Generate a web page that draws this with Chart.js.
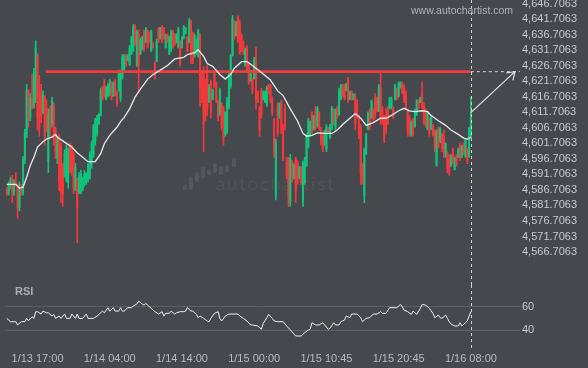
<!DOCTYPE html>
<html><head><meta charset="utf-8">
<script src="https://cdn.jsdelivr.net/npm/chart.js@4.4.1/dist/chart.umd.min.js"></script>
<style>
html,body{margin:0;padding:0;background:#45484d;}
#wrap{position:relative;width:588px;height:368px;overflow:hidden;background:#45484d;font-family:"Liberation Sans",Arial,sans-serif;}
canvas{position:absolute;left:0;}
#main{top:0;}
#rsi{top:285px;}
.txt{position:absolute;white-space:nowrap;}
.lb{position:absolute;width:4px;background:#54575c;border-radius:1.5px;}
</style></head><body>
<div id="wrap">
  <div class="lb" style="left:183px;top:185px;height:5px"></div>
  <div class="lb" style="left:189px;top:177px;height:13px"></div>
  <div class="lb" style="left:195px;top:172px;height:10px"></div>
  <div class="lb" style="left:201px;top:167px;height:11px"></div>
  <div class="lb" style="left:207px;top:170px;height:5px"></div>
  <div class="lb" style="left:213px;top:163px;height:10px"></div>
  <div class="lb" style="left:219px;top:166px;height:9px"></div>
  <div class="lb" style="left:225px;top:165px;height:7px"></div>
  <div class="lb" style="left:232px;top:158px;height:9px"></div>
  <div class="txt" style="left:216px;top:172px;font-family:Lato,sans-serif;font-weight:300;font-size:18px;letter-spacing:2.3px;color:#56595e;">autochartist</div>
  <canvas id="main" width="588" height="285"></canvas>
  <canvas id="rsi" width="588" height="83"></canvas>
  <div class="txt" style="left:411px;top:4px;font-size:10.5px;line-height:13px;color:#b0b4b9;">www.autochartist.com</div>
  <div class="txt" style="left:15px;top:285px;font-size:11px;line-height:12px;font-weight:bold;color:#a9adb2;">RSI</div>
</div>
<script>
// ---------- DATA (15-minute candles, index 0..257) ----------
const opens = [
4587.0,4585.5,4588.6,4590.0,4586.0,4589.0,4588.3,4581.0,4587.5,4585.8,
4596.5,4605.0,4618.5,4610.0,4616.5,4613.5,4617.0,4630.0,4618.0,4617.0,
4611.5,4616.5,4613.0,4596.0,4612.5,4608.0,4614.0,4606.0,4597.0,4603.5,
4600.5,4594.0,4591.0,4590.0,4589.0,4601.0,4600.0,4598.0,4587.0,4590.0,
4586.0,4586.0,4587.0,4588.5,4589.0,4590.0,4591.0,4595.0,4598.0,4602.5,
4605.0,4608.0,4610.7,4619.0,4620.5,4616.0,4617.0,4618.0,4621.0,4617.0,
4621.5,4618.0,4618.8,4616.0,4623.0,4625.5,4630.0,4628.4,4627.0,4630.5,
4631.5,4639.5,4627.0,4637.0,4630.5,4632.0,4637.5,4634.5,4638.0,4637.0,
4631.5,4634.0,4627.5,4628.3,4638.5,4635.5,4639.0,4638.5,4632.5,4636.5,
4630.5,4632.0,4637.8,4636.5,4634.3,4632.8,4634.5,4632.6,4635.5,4637.2,
4636.0,4634.3,4641.0,4637.0,4630.0,4631.0,4630.0,4636.5,4623.5,4625.0,
4621.0,4625.5,4615.0,4621.5,4616.0,4624.5,4621.0,4615.0,4611.0,4614.5,
4613.0,4604.5,4605.5,4613.0,4620.0,4630.0,4641.0,4636.5,4642.5,4640.5,
4636.5,4634.0,4627.0,4632.5,4627.5,4622.0,4622.4,4622.5,4628.0,4618.5,
4613.0,4618.5,4616.0,4615.0,4614.0,4620.5,4620.0,4616.0,4609.5,4585.0,
4613.5,4610.0,4615.0,4607.0,4613.0,4596.5,4595.0,4583.0,4596.0,4590.5,
4596.5,4595.5,4590.5,4594.0,4583.0,4589.0,4594.5,4601.0,4604.5,4611.5,
4606.5,4612.5,4607.5,4611.5,4606.0,4604.0,4601.5,4600.0,4606.5,4603.5,
4606.5,4612.0,4607.0,4613.0,4611.0,4616.0,4620.0,4619.5,4618.7,4622.5,
4616.0,4618.3,4616.0,4616.5,4614.5,4610.0,4606.5,4594.5,4585.0,4598.5,
4606.5,4611.5,4610.0,4612.5,4616.5,4616.0,4612.3,4619.5,4612.5,4609.5,
4611.0,4612.5,4613.0,4613.3,4613.0,4615.8,4619.0,4617.0,4619.8,4621.0,
4620.0,4617.5,4612.0,4609.5,4604.5,4609.3,4607.2,4611.0,4615.5,4614.9,
4618.0,4614.2,4612.0,4606.5,4609.0,4606.5,4607.5,4605.5,4595.0,4606.0,
4602.5,4604.5,4604.0,4597.5,4598.5,4596.5,4594.5,4599.5,4593.3,4597.6,
4597.3,4601.0,4597.4,4601.5,4597.5,4599.8,4597.5,4604.0];
const highs = [
4587.3,4589.3,4590.8,4591.4,4590.0,4592.3,4588.5,4589.3,4588.5,4597.5,
4606.3,4620.7,4619.0,4617.7,4623.9,4625.9,4634.7,4630.6,4623.6,4620.7,
4618.6,4617.1,4615.7,4612.8,4613.6,4616.6,4614.8,4606.9,4604.0,4604.6,
4601.9,4595.2,4599.6,4601.1,4600.2,4601.9,4601.1,4599.0,4595.2,4590.5,
4592.3,4593.1,4590.8,4592.9,4592.3,4595.2,4599.0,4602.5,4607.8,4609.8,
4610.7,4611.3,4619.5,4620.1,4622.4,4620.1,4621.0,4622.4,4621.5,4621.5,
4622.4,4618.6,4625.3,4625.3,4630.3,4630.3,4630.3,4630.3,4633.2,4636.2,
4640.0,4640.0,4638.2,4638.2,4635.6,4636.2,4638.2,4639.1,4638.2,4637.6,
4638.2,4634.1,4628.0,4635.3,4639.1,4639.1,4639.7,4639.1,4636.8,4637.0,
4636.2,4638.2,4638.2,4637.0,4637.0,4639.1,4634.7,4636.2,4639.7,4639.1,
4636.2,4642.0,4641.4,4637.6,4637.0,4635.3,4638.5,4637.0,4624.5,4626.5,
4622.4,4626.8,4620.7,4622.1,4619.2,4625.0,4621.5,4615.7,4619.5,4614.8,
4613.6,4611.9,4616.6,4624.5,4630.3,4642.9,4641.1,4641.1,4642.9,4641.4,
4637.0,4634.7,4632.4,4633.2,4628.0,4625.3,4622.7,4629.4,4632.7,4618.6,
4613.6,4619.5,4618.6,4618.6,4620.1,4620.7,4620.7,4616.6,4609.8,4603.1,
4614.8,4614.8,4615.7,4607.8,4614.2,4597.2,4597.2,4598.1,4596.1,4595.2,
4597.2,4596.1,4594.3,4594.3,4596.1,4597.2,4604.9,4609.8,4608.9,4611.9,
4610.7,4613.6,4613.6,4611.9,4606.9,4604.9,4606.0,4607.8,4606.9,4607.8,
4613.6,4612.8,4612.8,4613.6,4619.5,4620.7,4620.7,4620.7,4621.0,4623.0,
4618.6,4618.6,4617.7,4617.7,4615.7,4610.7,4607.8,4595.2,4600.2,4604.9,
4611.9,4612.8,4615.7,4612.8,4617.7,4616.6,4620.7,4625.0,4613.6,4610.7,
4612.8,4613.6,4616.6,4616.6,4613.6,4620.7,4619.5,4621.5,4621.5,4621.5,
4620.7,4618.6,4612.8,4610.7,4608.9,4609.8,4612.8,4615.7,4615.7,4616.6,
4621.5,4614.8,4612.8,4611.9,4609.8,4610.7,4607.8,4606.0,4606.0,4606.9,
4606.9,4604.9,4606.0,4601.9,4599.0,4598.1,4598.1,4600.2,4597.2,4598.1,
4600.2,4601.9,4601.1,4601.9,4603.1,4600.2,4606.9,4616.6];
const lows = [
4584.9,4585.0,4587.0,4582.6,4584.9,4587.9,4577.6,4580.0,4584.9,4585.0,
4595.2,4603.5,4606.9,4609.0,4612.8,4613.0,4614.8,4606.0,4604.0,4608.4,
4611.3,4601.1,4605.4,4592.3,4604.0,4606.9,4601.1,4596.7,4595.2,4586.4,
4582.6,4581.4,4590.8,4589.3,4587.3,4592.3,4591.4,4585.5,4586.4,4569.7,
4585.5,4585.5,4586.4,4587.9,4588.5,4589.3,4590.2,4593.7,4597.2,4601.1,
4604.0,4607.8,4610.5,4615.7,4616.6,4615.7,4616.6,4617.1,4615.7,4616.8,
4617.1,4613.6,4618.5,4615.1,4622.4,4625.3,4626.5,4628.3,4626.8,4630.3,
4631.2,4633.2,4626.5,4618.6,4630.3,4631.8,4631.2,4634.1,4632.4,4634.1,
4631.2,4632.4,4622.4,4628.0,4634.1,4635.3,4634.1,4635.3,4632.4,4634.1,
4630.3,4631.2,4632.4,4633.2,4634.1,4632.4,4626.5,4632.4,4635.3,4637.0,
4631.2,4634.1,4627.4,4627.4,4629.4,4630.3,4629.4,4613.6,4614.8,4599.0,
4608.9,4610.7,4614.8,4609.8,4615.7,4619.5,4614.8,4608.9,4610.7,4606.0,
4601.1,4604.0,4604.9,4612.8,4619.5,4629.8,4635.3,4636.2,4634.1,4630.3,
4631.2,4630.3,4626.5,4624.5,4620.7,4621.5,4617.7,4622.4,4612.8,4614.8,
4604.0,4609.8,4615.7,4614.8,4613.6,4617.7,4614.8,4610.7,4597.2,4583.5,
4604.0,4609.8,4604.9,4596.1,4606.0,4590.2,4581.4,4581.4,4589.3,4590.2,
4582.6,4588.5,4590.2,4588.5,4581.4,4588.5,4594.3,4600.2,4604.0,4604.9,
4606.0,4606.0,4606.9,4606.0,4601.1,4599.0,4601.1,4599.0,4604.9,4603.1,
4606.0,4607.8,4606.0,4609.8,4610.7,4615.7,4616.6,4615.7,4618.6,4614.8,
4615.7,4615.7,4615.7,4606.0,4609.8,4603.1,4588.5,4588.5,4582.6,4598.1,
4606.0,4606.0,4609.8,4608.9,4609.8,4611.9,4611.9,4607.8,4607.8,4601.9,
4604.9,4607.8,4612.8,4612.8,4609.8,4615.7,4615.7,4616.6,4619.5,4617.7,
4614.8,4612.8,4604.0,4604.0,4604.0,4604.0,4606.9,4610.7,4612.8,4614.8,
4612.8,4607.8,4606.9,4606.0,4604.0,4606.0,4604.0,4599.0,4594.3,4600.2,
4601.9,4599.0,4597.2,4597.2,4592.3,4591.4,4594.3,4595.2,4593.1,4594.3,
4597.2,4596.1,4597.2,4598.1,4597.2,4595.2,4597.2,4603.5];
const closes = [
4585.5,4588.6,4590.0,4586.0,4589.0,4588.3,4581.0,4587.5,4585.8,4596.5,
4605.0,4618.5,4610.0,4616.5,4613.5,4624.5,4632.5,4610.0,4607.0,4610.0,
4617.5,4604.0,4607.5,4611.0,4606.5,4615.5,4603.5,4598.5,4603.0,4589.0,
4586.0,4585.5,4598.5,4600.0,4599.0,4593.0,4592.5,4587.0,4594.0,4581.0,
4591.0,4592.0,4590.0,4592.0,4591.8,4594.5,4598.0,4601.5,4607.0,4609.0,
4610.0,4611.0,4618.5,4616.0,4617.0,4619.5,4620.5,4622.0,4616.5,4621.0,
4617.8,4614.5,4624.5,4624.8,4629.5,4629.8,4627.0,4630.0,4632.5,4635.5,
4639.0,4634.0,4637.5,4627.0,4635.0,4635.8,4632.0,4638.5,4633.0,4634.5,
4637.8,4632.6,4623.5,4634.5,4634.8,4638.8,4634.5,4635.8,4636.5,4634.5,
4635.8,4637.5,4633.0,4633.8,4636.8,4638.5,4627.5,4635.8,4639.2,4638.9,
4631.5,4641.0,4630.0,4628.5,4636.5,4635.0,4638.0,4620.0,4616.0,4608.0,
4610.5,4613.0,4620.0,4611.5,4618.8,4620.0,4615.5,4610.0,4619.0,4607.0,
4603.0,4611.5,4616.0,4624.0,4630.0,4642.0,4636.0,4640.5,4634.5,4631.0,
4632.0,4631.0,4632.0,4625.5,4621.5,4625.0,4618.5,4628.9,4616.0,4615.3,
4606.0,4611.0,4618.3,4618.2,4619.5,4618.0,4615.5,4611.5,4599.0,4602.0,
4605.0,4614.5,4606.0,4597.0,4607.0,4591.0,4584.0,4597.0,4590.0,4594.8,
4586.0,4589.5,4594.0,4589.0,4595.5,4596.8,4604.0,4609.0,4608.5,4605.5,
4610.2,4607.0,4613.0,4606.5,4602.0,4600.0,4605.5,4607.0,4605.0,4607.5,
4613.0,4608.5,4612.5,4610.2,4619.0,4620.3,4617.0,4616.2,4620.8,4615.5,
4618.3,4616.0,4617.5,4608.0,4610.5,4604.0,4592.0,4589.0,4599.5,4604.5,
4611.5,4607.0,4615.3,4609.3,4610.5,4612.3,4620.0,4610.0,4608.5,4603.0,
4606.0,4608.5,4616.3,4616.0,4610.3,4620.3,4616.3,4621.0,4621.2,4618.2,
4615.5,4613.5,4606.0,4605.0,4608.5,4604.6,4612.3,4615.3,4613.2,4616.3,
4613.5,4608.5,4607.5,4611.5,4604.8,4610.2,4604.5,4600.0,4605.5,4601.0,
4606.5,4600.0,4598.5,4601.5,4593.5,4592.0,4597.8,4595.8,4596.9,4594.8,
4599.8,4596.8,4600.8,4598.6,4602.8,4596.0,4606.5,4611.6];

// moving average
const maIdx = [0,5,7,9,11,13,15,17,20,22,25,27,28,31,34,36,39,42,45,49,52,54,57,61,63,65,68,71,74,78,81,85,89,93,98,100,104,106,109,111,114,118,121,124,126,130,133,136,140,146,150,153,157,161,164,166,169,172,176,180,183,186,190,193,196,199,203,207,210,213,217,220,223,226,230,233,235,239,243,246,250,253,255,257];
const maVal = [4588.5,4588.5,4587.3,4587.6,4590.8,4594.6,4597.2,4600.5,4602.2,4603.1,4603.7,4604.6,4603.7,4602.5,4601.3,4600.5,4598.7,4597.2,4595.8,4595.8,4598.4,4601.6,4604.3,4606.9,4608.7,4610.1,4612.8,4616.6,4619.2,4622.4,4623.9,4625.3,4626.8,4628.9,4629.4,4630.3,4630.9,4631.8,4629.7,4627.4,4626.5,4623.9,4622.4,4623.9,4625.9,4628.0,4628.0,4626.8,4625.0,4622.1,4618.6,4617.1,4612.8,4608.9,4604.9,4604.0,4604.3,4605.1,4604.9,4604.9,4606.0,4607.8,4609.8,4611.3,4609.8,4607.5,4608.4,4609.8,4609.8,4610.7,4612.2,4613.0,4612.2,4611.9,4612.2,4611.9,4610.7,4609.0,4607.5,4606.0,4604.6,4603.4,4603.1,4603.7];

// RSI
const rsiIdx = [0,2,5,6,8,10,11,12,14,15,16,17,19,20,22,23,25,26,27,29,30,32,33,35,36,38,39,40,42,44,45,48,50,52,53,54,56,57,59,60,62,63,64,65,67,69,70,72,73,75,76,77,79,80,82,84,86,87,88,90,91,93,94,96,98,99,100,102,103,105,106,107,109,111,112,113,115,117,118,119,121,123,128,129,131,133,135,136,139,141,142,144,145,147,148,150,153,155,157,159,160,163,165,167,168,169,171,173,175,176,178,179,181,182,184,185,187,188,190,191,194,196,197,199,201,203,205,207,208,210,212,216,218,219,220,222,224,225,227,229,230,232,234,236,237,239,240,241,243,244,245,246,248,250,251,252,254,255,256,257];
const rsiVal = [50.1,47.3,47.3,44.5,47.3,47.3,50.1,48.1,51.5,50.1,55.8,55.8,53.8,56.3,54.9,54.9,52.1,53.5,50.1,52.1,50.1,53.8,50.1,50.1,53.8,50.1,53.8,50.1,50.1,53.8,50.1,50.1,52.1,54.9,56.3,54.9,59.2,56.3,59.2,56.3,56.3,59.2,56.3,56.3,59.2,59.2,60.6,62.3,64.8,62.3,61.4,62.8,60.0,58.6,55.8,53.8,55.8,52.1,54.4,54.4,56.3,53.8,54.9,55.8,55.8,56.3,59.2,56.3,56.3,53.5,50.7,52.1,50.1,47.9,47.3,50.1,54.4,55.8,50.1,47.9,52.1,53.8,53.8,52.1,50.1,47.9,44.5,44.5,43.6,40.8,45.9,50.7,53.5,50.1,47.9,47.3,47.3,43.6,40.2,36.8,35.1,35.1,38.0,40.2,40.8,46.4,44.5,44.5,46.4,44.5,40.8,41.6,46.4,44.5,44.5,47.3,48.7,52.1,50.7,53.8,53.8,50.7,47.3,50.1,50.7,53.8,53.8,55.8,54.4,54.4,59.2,59.2,62.0,60.0,57.2,55.8,53.5,56.3,53.5,58.6,62.0,61.4,58.6,54.4,50.7,52.9,50.7,50.1,52.9,50.1,47.3,45.3,43.6,43.6,46.4,43.6,46.4,47.9,52.1,55.8];

// levels and ticks
const resistance = 4624.8;
const resistanceFromIdx = 21.5;
const projectionIdx = 281.4;
const priceTickLabels = ['4,566.7063','4,571.7063','4,576.7063','4,581.7063','4,586.7063','4,591.7063','4,596.7063','4,601.7063','4,606.7063','4,611.7063','4,616.7063','4,621.7063','4,626.7063','4,631.7063','4,636.7063','4,641.7063','4,646.7063'];
const rsiTickLabels = ['40','60'];
const timeTickIdx = [17,57,97,137,177,217,257];
const timeTickLabels = ['1/13 17:00','1/14 04:00','1/14 14:00','1/15 00:00','1/15 10:45','1/15 20:45','1/16 08:00'];

// ---------- CHARTS ----------
const UP = '#10c47c', DOWN = '#f5393a';
const lastIdx = closes.length - 1;
const X_MIN = -1, X_MAX = 284.2;
const FONT = '"Liberation Sans", Arial, sans-serif';
Chart.defaults.font.family = FONT;
Chart.defaults.animation = false;

const priceTickValues = priceTickLabels.map(s => parseFloat(s.replace(/,/g, '')));
const candleColors = closes.map((c, i) => c >= opens[i] ? UP : DOWN);

function xAxis(show) {
  return {
    type: 'linear', min: X_MIN, max: X_MAX, offset: false, display: show,
    grid: { display: false, drawTicks: false }, border: { display: false },
    afterBuildTicks: s => { s.ticks = timeTickIdx.map(v => ({ value: v })); },
    ticks: { autoSkip: false, maxRotation: 0, minRotation: 0, padding: 10, color: '#b9bcc1',
      font: { size: 11 },
      callback: v => { const k = timeTickIdx.indexOf(v); return k >= 0 ? timeTickLabels[k] : ''; } },
    afterFit: s => { s.height = 26; s.paddingLeft = 0; s.paddingRight = 0; }
  };
}

const mainOverlay = {
  id: 'mainOverlay',
  afterDatasetsDraw(chart) {
    const { ctx, scales: { x } } = chart;
    const xl = Math.round(x.getPixelForValue(lastIdx)) + 0.5;
    ctx.save();
    ctx.strokeStyle = '#cfd1d4'; ctx.lineWidth = 1; ctx.setLineDash([3, 3]);
    ctx.beginPath(); ctx.moveTo(xl, 0); ctx.lineTo(xl, chart.height); ctx.stroke();
    const meta = chart.getDatasetMeta(3);
    const p0 = meta.data[0], p1 = meta.data[1];
    const a = Math.atan2(p1.y - p0.y, p1.x - p0.x);
    ctx.setLineDash([]); ctx.strokeStyle = '#e6e6e6'; ctx.lineWidth = 1.2;
    ctx.beginPath();
    ctx.moveTo(p1.x - 9 * Math.cos(a - 0.6), p1.y - 9 * Math.sin(a - 0.6));
    ctx.lineTo(p1.x, p1.y);
    ctx.lineTo(p1.x - 9 * Math.cos(a + 0.6), p1.y - 9 * Math.sin(a + 0.6));
    ctx.stroke();
    ctx.restore();
  }
};

new Chart(document.getElementById('main'), {
  type: 'bar',
  data: {
    datasets: [
      { type: 'line', order: 0, data: maIdx.map((v, i) => ({ x: v, y: maVal[i] })),
        borderColor: '#e9e9e9', borderWidth: 1.3, pointRadius: 0, tension: 0 },
      { type: 'line', order: 0, data: [{ x: resistanceFromIdx, y: resistance }, { x: lastIdx, y: resistance }],
        borderColor: '#f23c3c', borderWidth: 2.6, pointRadius: 0 },
      { type: 'line', order: 0, data: [{ x: lastIdx, y: resistance }, { x: X_MAX, y: resistance }],
        borderColor: '#d3d5d8', borderWidth: 1, borderDash: [3, 3], pointRadius: 0 },
      { type: 'line', order: 0, data: [{ x: lastIdx, y: closes[lastIdx] }, { x: projectionIdx, y: resistance }],
        borderColor: '#e6e6e6', borderWidth: 1.2, pointRadius: 0 },
      { type: 'bar', order: 1, grouped: false, barThickness: 1.4, minBarLength: 1,
        data: opens.map((o, i) => ({ x: i, y: [o, closes[i]] })), backgroundColor: candleColors },
      { type: 'bar', order: 2, grouped: false, barThickness: 1,
        data: lows.map((l, i) => ({ x: i, y: [l, highs[i]] })), backgroundColor: candleColors }
    ]
  },
  options: {
    responsive: false, animation: false,
    layout: { padding: { left: 5, top: 0, right: 0, bottom: 0 } },
    plugins: { legend: { display: false }, tooltip: { enabled: false } },
    scales: {
      x: xAxis(false),
      y: {
        type: 'linear', position: 'right', min: 4564.46, max: 4647.88,
        grid: { display: false, drawTicks: false }, border: { display: false },
        afterBuildTicks: s => { s.ticks = priceTickValues.map(v => ({ value: v })); },
        ticks: { autoSkip: false, padding: 2, color: '#c6c9cd', font: { size: 11 },
          callback: (v, i) => priceTickLabels[i] },
        afterFit: s => { s.width = 68; s.paddingTop = 0; s.paddingBottom = 0; }
      }
    }
  },
  plugins: [mainOverlay]
});

const rsiOverlay = {
  id: 'rsiOverlay',
  afterDatasetsDraw(chart) {
    const { ctx, scales: { x } } = chart;
    const xl = Math.round(x.getPixelForValue(lastIdx)) + 0.5;
    ctx.save();
    ctx.strokeStyle = '#cfd1d4'; ctx.lineWidth = 1; ctx.setLineDash([3, 3]);
    ctx.beginPath(); ctx.moveTo(xl, 0); ctx.lineTo(xl, 65); ctx.stroke();
    ctx.restore();
  }
};

new Chart(document.getElementById('rsi'), {
  type: 'line',
  data: {
    datasets: [{ data: rsiIdx.map((v, i) => ({ x: v, y: rsiVal[i] })),
      borderColor: '#f0f0f0', borderWidth: 1, pointRadius: 0, tension: 0 }]
  },
  options: {
    responsive: false, animation: false,
    layout: { padding: { left: 5, top: 10, right: 0, bottom: 0 } },
    plugins: { legend: { display: false }, tooltip: { enabled: false } },
    scales: {
      x: xAxis(true),
      y: {
        type: 'linear', position: 'right', min: 30, max: 70,
        grid: { color: '#5c6065', lineWidth: 1, drawTicks: false }, border: { display: false },
        afterBuildTicks: s => { s.ticks = rsiTickLabels.map(v => ({ value: parseFloat(v) })); },
        ticks: { autoSkip: false, padding: 2, color: '#c6c9cd', font: { size: 11 }, callback: (v, i) => rsiTickLabels[i] },
        afterFit: s => { s.width = 68; s.paddingTop = 0; s.paddingBottom = 0; }
      }
    }
  },
  plugins: [rsiOverlay]
});
</script>
</body></html>
